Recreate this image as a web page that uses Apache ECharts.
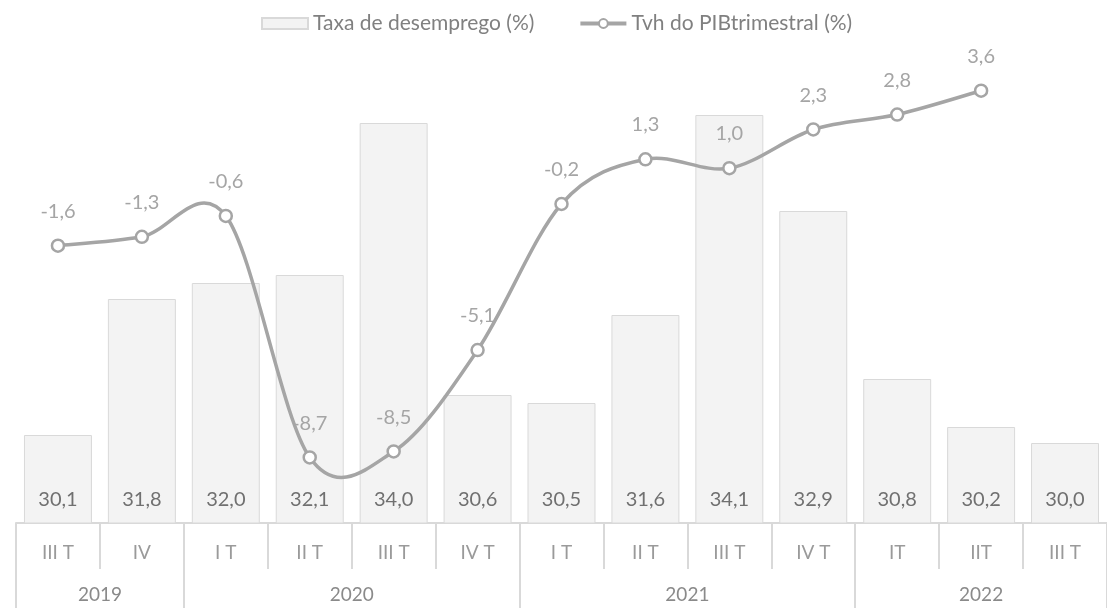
<!DOCTYPE html>
<html>
<head>
<meta charset="utf-8">
<script src="https://cdn.jsdelivr.net/npm/echarts@6/dist/echarts.min.js"></script>
<style>
  html, body { margin: 0; padding: 0; background: #fff; }
  #chart { width: 1107px; height: 608px; }
</style>
</head>
<body>
<div id="chart"></div>
<script>
// quarters on the axis, years below them
var quarters = ['III T', 'IV', 'I T', 'II T', 'III T', 'IV T', 'I T', 'II T', 'III T', 'IV T', 'IT', 'IIT', 'III T'];
var years = ['2019', '2020', '2021', '2022'];
var yearCenters = [1, 4, 8, 11.5];      // middle of each year group (category units)
var yearBounds = [0, 2, 6, 10, 13];     // separators between years

var desemprego = [30.1, 31.8, 32.0, 32.1, 34.0, 30.6, 30.5, 31.6, 34.1, 32.9, 30.8, 30.2, 30.0];
var pib = [-1.6, -1.3, -0.6, -8.7, -8.5, -5.1, -0.2, 1.3, 1.0, 2.3, 2.8, 3.6, null];

var fmt = function (v) { return v.toFixed(1).replace('.', ','); };

var font = 'Lato';
var grey = '#a5a5a5';

// curve through the PIB points (cardinal spline, like the spreadsheet smoothing)
function renderCurve(params, api) {
  if (params.dataIndex !== 0) return null;
  var pts = [];
  for (var i = 0; i < pib.length; i++) {
    if (pib[i] != null) pts.push(api.coord([i, pib[i]]));
  }
  var d = 'M' + pts[0][0] + ',' + pts[0][1];
  for (var k = 0; k < pts.length - 1; k++) {
    var p0 = pts[Math.max(k - 1, 0)], p1 = pts[k], p2 = pts[k + 1], p3 = pts[Math.min(k + 2, pts.length - 1)];
    var c1x = p1[0] + (p2[0] - p0[0]) / 6, c1y = p1[1] + (p2[1] - p0[1]) / 6;
    var c2x = p2[0] - (p3[0] - p1[0]) / 6, c2y = p2[1] - (p3[1] - p1[1]) / 6;
    d += ' C' + c1x + ',' + c1y + ' ' + c2x + ',' + c2y + ' ' + p2[0] + ',' + p2[1];
  }
  return {
    type: 'path',
    shape: { pathData: d },
    style: { fill: 'none', stroke: grey, lineWidth: 3.5 }
  };
}

var chart = echarts.init(document.getElementById('chart'));

chart.setOption({
  animation: false,
  textStyle: { fontFamily: font },
  legend: {
    top: 8,
    left: 256,
    itemGap: 44,
    itemWidth: 46,
    itemHeight: 11,
    textStyle: { fontSize: 21, color: '#808080', fontFamily: font },
    data: [
      { name: 'Taxa de desemprego (%)', icon: 'rect' },
      { name: 'Tvh do PIBtrimestral (%)', lineStyle: { opacity: 1, color: grey, width: 4 } }
    ]
  },
  grid: { left: 16, right: -13, top: 43, bottom: 85, containLabel: false },
  xAxis: [
    {
      type: 'category',
      data: quarters,
      position: 'bottom',
      axisLine: { onZero: false, lineStyle: { color: '#d9d9d9', width: 2 } },
      axisTick: { show: true, interval: 0, length: 46, lineStyle: { color: '#d9d9d9', width: 2 } },
      axisLabel: { interval: 0, margin: 20, fontSize: 19, color: '#9a9a9a', fontFamily: font },
      splitLine: { show: false }
    },
    {
      type: 'value',
      min: 0,
      max: 13,
      position: 'bottom',
      axisLine: { show: false, onZero: false },
      axisTick: {
        show: true,
        customValues: yearBounds,
        length: 90,
        lineStyle: { color: '#d9d9d9', width: 2 }
      },
      axisLabel: {
        customValues: yearCenters,
        margin: 62,
        fontSize: 19,
        color: '#8a8a8a',
        fontFamily: font,
        formatter: function (v) {
          var i = yearCenters.indexOf(v);
          return i >= 0 ? years[i] : '';
        }
      },
      splitLine: { show: false }
    }
  ],
  yAxis: [
    { type: 'value', min: 29, max: 35, show: false, splitLine: { show: false } },
    { type: 'value', min: -10.9, max: 5.2, show: false, splitLine: { show: false } }
  ],
  series: [
    {
      name: 'Taxa de desemprego (%)',
      type: 'bar',
      xAxisIndex: 0,
      yAxisIndex: 0,
      data: desemprego,
      barCategoryGap: '19%',
      itemStyle: { color: '#f3f3f3', borderColor: '#d9d9d9', borderWidth: 1 },
      label: {
        show: true,
        position: 'insideBottom',
        distance: 14,
        fontSize: 20,
        color: '#707070',
        fontFamily: font,
        formatter: function (p) { return fmt(p.value); }
      },
      z: 1
    },
    {
      name: 'Tvh do PIBtrimestral curve',
      type: 'custom',
      xAxisIndex: 0,
      yAxisIndex: 1,
      data: pib.map(function (v, i) { return [i, v]; }),
      renderItem: renderCurve,
      silent: true,
      z: 2
    },
    {
      name: 'Tvh do PIBtrimestral (%)',
      type: 'line',
      xAxisIndex: 0,
      yAxisIndex: 1,
      data: pib,
      symbol: 'circle',
      symbolSize: 12,
      lineStyle: { color: grey, width: 3.5, opacity: 0 },
      itemStyle: { color: '#ffffff', borderColor: grey, borderWidth: 2.5 },
      label: {
        show: true,
        position: 'top',
        distance: 17,
        fontSize: 20,
        color: grey,
        fontFamily: font,
        formatter: function (p) { return p.value == null ? '' : fmt(p.value); }
      },
      z: 3
    }
  ]
});
</script>
</body>
</html>
